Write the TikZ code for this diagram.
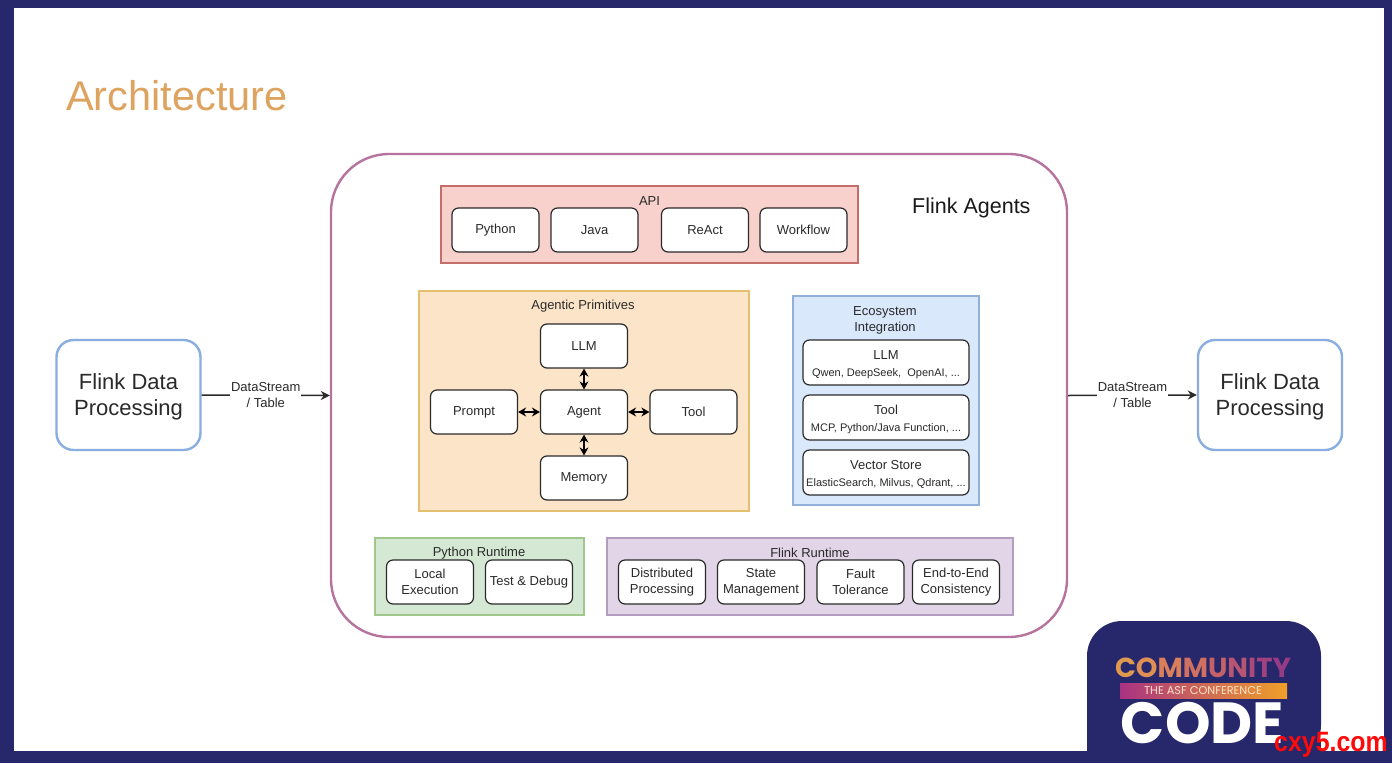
\documentclass[tikz,border=0pt]{standalone}
\usepackage{fontspec}
\setmainfont{Liberation Sans}
\newfontfamily\logofont{Poppins}
\usetikzlibrary{arrows.meta}
\definecolor{navy}{HTML}{27276B}
\definecolor{titlec}{HTML}{DDA35F}
\definecolor{inkc}{HTML}{2A2A2A}
\definecolor{mainc}{HTML}{B5739D}
\definecolor{bluec}{HTML}{8AAEDF}
\definecolor{apid}{HTML}{C46E6A}
\definecolor{apif}{HTML}{F8D0CC}
\definecolor{primd}{HTML}{E3C070}
\definecolor{primf}{HTML}{FCE4C8}
\definecolor{ecod}{HTML}{92B0DA}
\definecolor{ecof}{HTML}{DAE8FC}
\definecolor{pyd}{HTML}{A0C88C}
\definecolor{pyf}{HTML}{D5E8D4}
\definecolor{fld}{HTML}{B49CC0}
\definecolor{flf}{HTML}{E1D5E7}
\definecolor{logoa}{HTML}{AA3282}
\definecolor{logob}{HTML}{F0A028}
\definecolor{wmc}{HTML}{FF0A0A}
\tikzset{
  x=1pt,y=-1pt,
  txt/.style={text=inkc,font=\fontsize{13}{16}\selectfont,align=center,inner sep=0pt},
  panel/.style={draw=#1,line width=1.1pt,inner sep=0pt},
  item/.style={draw=inkc,fill=white,line width=1.2pt,rounded corners=6.5pt,minimum width=87pt,minimum height=44pt,inner sep=0pt,text=inkc,font=\fontsize{13}{16}\selectfont,align=center},
  ecoitem/.style={draw=inkc,fill=white,line width=1.2pt,rounded corners=6.5pt,minimum width=166pt,minimum height=45pt,inner sep=0pt,text=inkc,font=\fontsize{13}{17}\selectfont,align=center},
  outer/.style={draw=bluec,fill=white,line width=2.4pt,rounded corners=17pt,minimum width=144pt,minimum height=110pt,inner sep=0pt,text=inkc,font=\fontsize{22}{26}\selectfont,align=center},
  biarrow/.style={draw=black,line width=1.4pt,{Stealth[length=8pt,width=9pt]}-{Stealth[length=8pt,width=9pt]}},
  flowline/.style={draw=inkc,line width=1.5pt,-{Stealth[length=9pt,width=9pt]}},
  flowlabel/.style={fill=white,text=inkc,font=\fontsize{13}{16}\selectfont,align=center,inner sep=1pt}
}
\newcommand{\smalltxt}[1]{{\fontsize{11}{13}\selectfont #1}}
\newcommand{\lc}[2]{\textcolor[HTML]{#1}{#2}}
\begin{document}
\begin{tikzpicture}
\useasboundingbox (0,0) rectangle (1392,763);
% frame
\fill[navy] (0,0) rectangle (1392,763);
\fill[white] (14,7.5) rectangle (1384,751);
% title
\node[anchor=west,text=titlec,inner sep=0pt,font=\fontsize{41.5}{48}\selectfont] (title) at (66,96) {Architecture};
% main container
\node[draw=mainc,line width=2.4pt,rounded corners=58pt,minimum width=736pt,minimum height=483pt,inner sep=0pt] (main) at (699,395.5) {};
\node[anchor=west,inner sep=0pt,text=black!90,font=\fontsize{21.5}{26}\selectfont] (maintitle) at (912,208) {Flink Agents};
% outer boxes
\node[outer] (left) at (128.5,395) {\rule{0pt}{19pt}Flink Data\\Processing};
\node[outer] (right) at (1270,395) {\rule{0pt}{19pt}Flink Data\\Processing};
\draw[flowline] (left.east) -- (main.west) node[flowlabel,pos=.5] (ll) {DataStream\\/ Table};
\draw[flowline] (main.east) -- (right.west) node[flowlabel,pos=.5] (rl) {DataStream\\/ Table};
% API
\node[panel=apid,fill=apif,minimum width=417pt,minimum height=77pt] (api) at (649.5,224.5) {};
\node[txt] (apit) at (649.5,201) {API};
\node[item] (python) at (495.5,230) {Python};
\node[item] (java) at (594.5,230) {Java};
\node[item] (react) at (705,230) {ReAct};
\node[item] (workflow) at (803.5,230) {Workflow};
% Agentic primitives
\node[panel=primd,fill=primf,minimum width=330pt,minimum height=220pt] (prim) at (584,401) {};
\node[txt] (primt) at (583,306) {Agentic Primitives};
\node[item] (llm) at (584,346) {LLM};
\node[item] (agent) at (584,412) {Agent};
\node[item] (prompt) at (474,412) {Prompt};
\node[item] (tool) at (693.5,412) {Tool};
\node[item] (memory) at (584,478) {Memory};
\draw[biarrow] (agent) -- (llm);
\draw[biarrow] (agent) -- (memory);
\draw[biarrow] (agent) -- (prompt);
\draw[biarrow] (agent) -- (tool);
% Ecosystem
\node[panel=ecod,fill=ecof,minimum width=186pt,minimum height=209pt] (eco) at (886,400.5) {};
\node[txt] (ecot) at (885,320.5) {Ecosystem\\Integration};
\node[ecoitem] (ellm) at (886,362.5) {\rule{0pt}{13pt}LLM\\\smalltxt{Qwen, DeepSeek,\ \ OpenAI, ...}};
\node[ecoitem] (etool) at (886,417.5) {\rule{0pt}{13pt}Tool\\\smalltxt{MCP, Python/Java Function, ...}};
\node[ecoitem] (evec) at (886,472.5) {\rule{0pt}{13pt}Vector Store\\\smalltxt{ElasticSearch, Milvus, Qdrant, ...}};
% Python runtime
\node[panel=pyd,fill=pyf,minimum width=209pt,minimum height=77pt] (pyrt) at (479.5,576.5) {};
\node[txt] (pyrtt) at (479,553) {Python Runtime};
\node[item] (local) at (430,582) {Local\\Execution};
\node[item] (test) at (529,582) {Test \& Debug};
% Flink runtime
\node[panel=fld,fill=flf,minimum width=406pt,minimum height=77pt] (flrt) at (810,576.5) {};
\node[txt] (flrtt) at (810,553) {Flink Runtime};
\node[item] (dist) at (662,582) {Distributed\\Processing};
\node[item] (state) at (761,582) {State\\Management};
\node[item] (fault) at (860.5,582) {Fault\\Tolerance};
\node[item] (e2e) at (956,582) {End-to-End\\Consistency};
% logo
\fill[navy,rounded corners=35pt] (1087,760) -- (1087,621) -- (1321,621) -- (1321,760) [sharp corners] -- cycle;
\fill[navy] (1087,740) rectangle (1321,752);
\fill[left color=logoa,right color=logob,draw=none] (1120,683) rectangle (1287,698);
\node[inner sep=0pt,text=white!80!orange,font=\logofont\fontsize{11.3}{12}\selectfont] (logosub) at (1203,691) {THE ASF CONFERENCE};
\node[inner sep=0pt,font=\logofont\bfseries\fontsize{27.5}{30}\selectfont] (logotop) at (1203,668) {\lc{E09A50}{C}\lc{DF8E55}{O}\lc{D97F5A}{M}\lc{CF7060}{M}\lc{C56268}{U}\lc{B85570}{N}\lc{AA4A78}{I}\lc{A04280}{T}\lc{953C85}{Y}};
\node[inner sep=0pt,text=white,font=\logofont\bfseries\fontsize{58}{62}\selectfont] (logocode) at (1202.5,723) {CODE};
% watermark
\node[anchor=east,inner sep=0pt,text=wmc,font=\bfseries\fontsize{28}{32}\selectfont] (wm) at (1388,745) {\scalebox{.89}[1]{cxy5.com}};
\end{tikzpicture}
\end{document}
